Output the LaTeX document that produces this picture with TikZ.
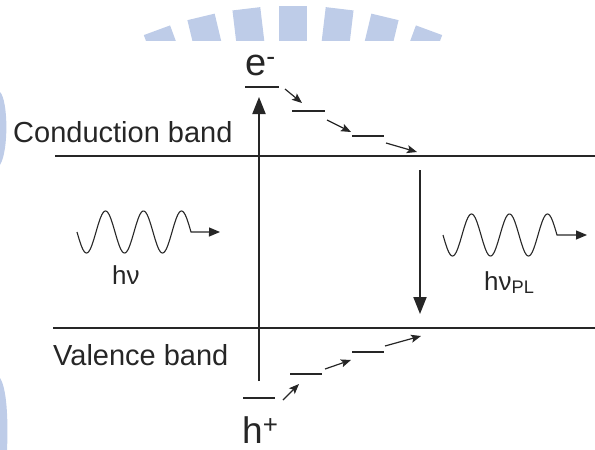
\documentclass[tikz,border=0pt]{standalone}
\usepackage{fontspec}
\setmainfont{Liberation Sans}
\usetikzlibrary{arrows.meta,positioning}
\definecolor{wmblue}{RGB}{190,204,232}

\begin{document}
\begin{tikzpicture}[x=1pt,y=-1pt,
  band/.style={line width=2pt,black!85},
  lvl/.style={line width=2.4pt,black!85},
  bigarr/.style={-{Triangle[length=17pt,width=13pt]},line width=2pt,black!85},
  hop/.style={-{Stealth[length=10pt,width=8pt,inset=2pt]},line width=1.2pt,black!85},
  wave/.style={line width=1.1pt,black!85,-{Triangle[length=11pt,width=9pt]}},
  lbl/.style={inner sep=0pt,anchor=base west,text=black!85}]
\useasboundingbox (0,0) rectangle (595,450);
% watermark
\begin{scope}
  \clip (0,0) rectangle (595,40);
  \foreach \a in {-20.2,-13.5,-6.8,0,6.8,13.5,20.2}
    \fill[wmblue,rotate around={\a:(293,400)}] (279,6) rectangle (307,60);
\end{scope}
\fill[wmblue] (0,92) .. controls (8,100) and (9,150) .. (0,165) -- cycle;
\fill[wmblue] (0,378) .. controls (8,390) and (8,430) .. (7,450) -- (0,450) -- cycle;

% bands
\coordinate (cb-l) at (55,156);  \coordinate (cb-r) at (595,156);
\coordinate (vb-l) at (53,328);  \coordinate (vb-r) at (595,328);
\draw[band] (cb-l) -- (cb-r);
\draw[band] (vb-l) -- (vb-r);
\node[lbl,font=\fontsize{29}{34}\selectfont] (cbtxt) at (13,142) {Conduction band};
\node[lbl,font=\fontsize{29}{34}\selectfont] (vbtxt) at (53,365) {Valence band};

% electron side
\node[lbl,font=\fontsize{38}{44}\selectfont] (elec) at (245,75) {e\textsuperscript{-}};
\coordinate (e1a) at (245,87);  \coordinate (e1b) at (279,87);
\coordinate (e2a) at (292,111); \coordinate (e2b) at (325,111);
\coordinate (e3a) at (352,136); \coordinate (e3b) at (384,136);
\draw[lvl] (e1a) -- (e1b);
\draw[lvl] (e2a) -- (e2b);
\draw[lvl] (e3a) -- (e3b);
\coordinate (eh1s) at (285,89);  \coordinate (eh1e) at (302,103);
\coordinate (eh2s) at (327,120); \coordinate (eh2e) at (351,132);
\coordinate (eh3s) at (386,143); \coordinate (eh3e) at (417,152);
\draw[hop] (eh1s) -- (eh1e);
\draw[hop] (eh2s) -- (eh2e);
\draw[hop] (eh3s) -- (eh3e);

% hole side
\node[lbl,font=\fontsize{37}{42}\selectfont] (hole) at (242,443) {h\textsuperscript{+}};
\coordinate (h1a) at (243,398); \coordinate (h1b) at (275,398);
\coordinate (h2a) at (290,374); \coordinate (h2b) at (322,374);
\coordinate (h3a) at (352,352); \coordinate (h3b) at (384,352);
\draw[lvl] (h1a) -- (h1b);
\draw[lvl] (h2a) -- (h2b);
\draw[lvl] (h3a) -- (h3b);
\coordinate (hh1s) at (283,400); \coordinate (hh1e) at (299,384);
\coordinate (hh2s) at (325,369); \coordinate (hh2e) at (351,360);
\coordinate (hh3s) at (385,346); \coordinate (hh3e) at (421,336);
\draw[hop] (hh1s) -- (hh1e);
\draw[hop] (hh2s) -- (hh2e);
\draw[hop] (hh3s) -- (hh3e);

% excitation / recombination
\coordinate (exc-s) at (259,381); \coordinate (exc-e) at (259,97);
\coordinate (rec-s) at (420,170); \coordinate (rec-e) at (420,314);
\draw[bigarr] (exc-s) -- (exc-e);
\draw[bigarr] (rec-s) -- (rec-e);

% photons
\draw[wave] plot[domain=0:3,samples=120,smooth] ({77+38*\x},{232+21*sin(360*\x)}) -- (220,232);
\node[lbl,font=\fontsize{26}{30}\selectfont] (hvin) at (112,284) {hν};
\draw[wave] plot[domain=0:3,samples=120,smooth] ({443+38*\x},{235+21*sin(360*\x)}) -- (587,235);
\node[lbl,font=\fontsize{26}{30}\selectfont] (hvpl) at (484,290) {hν\textsubscript{PL}};
\end{tikzpicture}
\end{document}
